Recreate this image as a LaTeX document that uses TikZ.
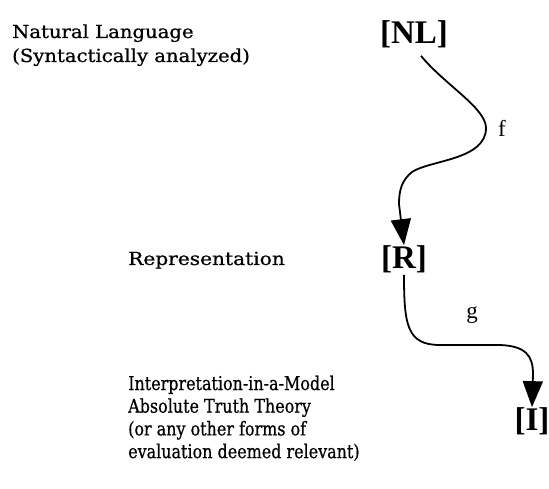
\documentclass[tikz,border=0pt]{standalone}
\usepackage{fontspec}
\setmainfont{DejaVu Serif}
\newfontfamily\txtfont{DejaVu Serif}[FakeBold=0.7]
\newfontfamily\brfont{Liberation Serif}
\usetikzlibrary{arrows.meta}
\tikzset{
  txt/.style={inner sep=0pt, anchor=base west, font=\txtfont\fontsize{18}{24}\selectfont},
  brk/.style={inner sep=0pt, font=\brfont\bfseries\fontsize{33}{35}\selectfont},
  lbl/.style={inner sep=0pt, font=\brfont\fontsize{23}{25}\selectfont},
  wire/.style={line width=1.8pt, line join=round, -{Triangle[width=20pt,length=26pt]}},
}
\begin{document}
\begin{tikzpicture}[x=1pt,y=-1pt]
\useasboundingbox (0,0) rectangle (549,489);
\node[txt] (nl-t) at (12,38) {\scalebox{1.09}[1]{\begin{tabular}[t]{@{}l@{}}Natural Language\\(Syntactically analyzed)\end{tabular}}};
\node[txt] (r-t) at (128,265) {\scalebox{1.12}[1]{Representation}};
\node[txt, font=\txtfont\fontsize{19}{22.7}\selectfont] (i-t) at (128,390) {\scalebox{0.84}[1]{\begin{tabular}[t]{@{}l@{}}Interpretation-in-a-Model\\Absolute Truth Theory\\(or any other forms of\\evaluation deemed relevant)\end{tabular}}};
\node[brk] (NL) at (414,34) {[NL]};
\node[brk] (R) at (404,259) {[R]};
\node[brk] (I) at (532,421) {[I]};
\node[lbl] (f) at (502,128) {f};
\node[lbl] (g) at (472,315) {g};
\draw[wire] (NL.south) ++(7,8) .. controls (445,85) and (486,108) .. (486,128) .. controls (486,160) and (430,160) .. (412,172) .. controls (402,180) and (399,190) .. (399,204) -- (R.north);
\draw[wire] (R.south) ++(0,2) .. controls (404,325) and (407,345) .. (440,345) -- (500,345) .. controls (526,346) and (533,356) .. (533,374) -- (I.north);
\end{tikzpicture}
\end{document}
